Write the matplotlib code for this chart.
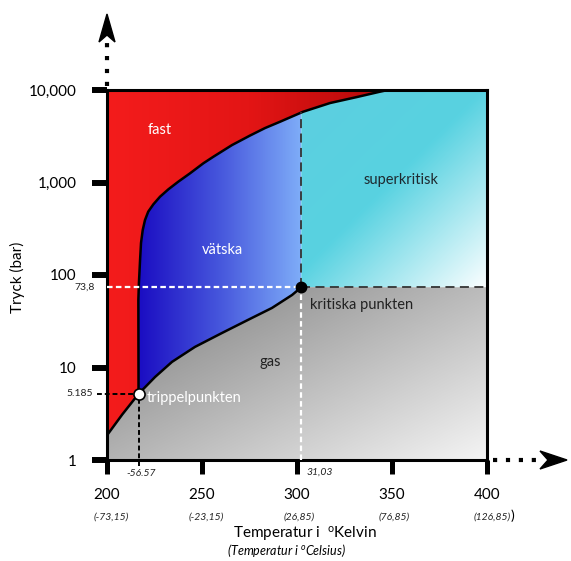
import numpy as np
import matplotlib.pyplot as plt
from matplotlib.colors import LinearSegmentedColormap
from matplotlib.patches import Polygon
from matplotlib.ticker import NullLocator

plt.rcParams['font.family'] = ['Lato', 'DejaVu Sans']
plt.rcParams['mathtext.fontset'] = 'custom'
plt.rcParams['mathtext.rm'] = 'Lato'
plt.rcParams['mathtext.it'] = 'Lato:italic'

# ---- CO2 phase diagram data (K, bar) ----
triple_T, triple_P = 216.6, 5.185
crit_T, crit_P = 302.3, 73.8

subl_T = [200.0, 208.0, triple_T]
subl_P = [1.85, 3.1, triple_P]

melt_T = [triple_T, 216.5, 216.8, 217.4, 217.9, 218.8, 220.0, 221.7, 224.4, 227.9, 232.3,
          237.5, 243.7, 250.7, 256.0, 265.8, 275.3, 283.2, 291.1, 303.2, 317.4, 331.6, 343.7, 347.9]
melt_P = [triple_P, 53.7, 82, 145, 222, 306, 393, 484, 581, 702, 844,
          1020, 1257, 1613, 1900, 2540, 3220, 3880, 4540, 5820, 7230, 8400, 9590, 10000]

vap_T = [triple_T, 225.3, 234.2, 246.3, 260.5, 274.2, 286.8, 297.4, crit_T]
vap_P = [triple_P, 7.9, 11.5, 16.7, 23.6, 32.7, 44.0, 60.8, crit_P]

kelvin_ticks = [200, 250, 300, 350, 400]
celsius_labels = ['(-73,15)', '(-23,15)', '(26,85)', '(76,85)', '(126,85)']
p_ticks = [1, 10, 100, 1000, 10000]
p_labels = ['1', '10', '100', '1,000', '10,000']

W, H = 571, 561
fig = plt.figure(figsize=(W / 100, H / 100), dpi=100)
ax = fig.add_axes([107 / W, 1 - 460 / H, 380 / W, 370 / H])
ax.set_yscale('log')


def gradient_fill(verts, colors, start, end):
    # linear gradient from start to end (axes fraction), clipped to the polygon
    patch = Polygon(verts, closed=True, transform=ax.transData,
                    facecolor='none', edgecolor='none')
    ax.add_patch(patch)
    n = 400
    u, v = np.meshgrid(np.linspace(0, 1, n), np.linspace(0, 1, n))
    du, dv = end[0] - start[0], end[1] - start[1]
    t = ((u - start[0]) * du + (v - start[1]) * dv) / (du ** 2 + dv ** 2)
    t = np.clip(t, 0, 1)
    cmap = LinearSegmentedColormap.from_list('g', colors)
    im = ax.imshow(t, cmap=cmap, vmin=0, vmax=1, extent=[0, 1, 0, 1], origin='lower',
                   transform=ax.transAxes, aspect='auto', interpolation='bilinear', zorder=1)
    im.set_clip_path(patch)


melt_at_crit = 10 ** np.interp(crit_T, melt_T, np.log10(melt_P))
mT, mP = np.array(melt_T), np.array(melt_P)

# solid
solid = [(200, 10000)] + list(zip(subl_T, subl_P)) + list(zip(melt_T[1:], melt_P[1:]))
gradient_fill(solid, ['#f41c1c', '#e31515', '#b20909'], (0, 0.5), (0.75, 0.5))

# liquid
sel = mT < crit_T
liquid = list(zip(mT[sel], mP[sel])) + [(crit_T, melt_at_crit)] + list(zip(vap_T[::-1], vap_P[::-1]))
gradient_fill(liquid, ['#1a0cc2', '#4656dc', '#7eacf8'], (0.08, 0.5), (0.51, 0.5))

# supercritical
sel = mT > crit_T
superc = [(crit_T, crit_P), (crit_T, melt_at_crit)] + list(zip(mT[sel], mP[sel])) + [(400, 10000), (400, crit_P)]
gradient_fill(superc, [(0, '#5ccfe0'), (0.45, '#58d2e1'), (1, '#fafeff')], (0.51, 0.95), (1.0, 0.47))

# gas
gas = [(200, 1)] + list(zip(subl_T, subl_P)) + list(zip(vap_T[1:], vap_P[1:])) + [(400, crit_P), (400, 1)]
gradient_fill(gas, ['#7a7a7a', '#f4f4f4'], (0.0, 0.47), (0.415, -0.31))

# phase boundaries
ax.plot(subl_T, subl_P, color='black', lw=1.8, zorder=3, solid_joinstyle='round')
ax.plot(melt_T, melt_P, color='black', lw=1.8, zorder=3, solid_joinstyle='round')
ax.plot(vap_T, vap_P, color='black', lw=1.8, zorder=3, solid_joinstyle='round')

# dashed guides
ax.plot([crit_T, crit_T], [crit_P, melt_at_crit], color='#333333', lw=1.3, ls=(0, (5, 3)), zorder=3)
ax.plot([crit_T, 400], [crit_P, crit_P], color='#333333', lw=1.3, ls=(0, (5, 3)), zorder=3)
ax.plot([200, crit_T], [crit_P, crit_P], color='white', lw=1.6, ls=(0, (2.5, 1.5)), zorder=3)
ax.plot([crit_T, crit_T], [1, crit_P], color='white', lw=1.6, ls=(0, (2.5, 1.5)), zorder=3)
xt = ax.get_xaxis_transform()
yt = ax.get_yaxis_transform()
ax.plot([-0.026, (triple_T - 200) / 200], [triple_P, triple_P], transform=yt, color='black',
        lw=1.4, ls=(0, (2.5, 1.5)), clip_on=False, zorder=3)
ax.plot([triple_T, triple_T], [-0.016, np.log10(triple_P) / 4], transform=xt, color='black',
        lw=1.4, ls=(0, (2.5, 1.5)), clip_on=False, zorder=3)

# points
ax.plot(crit_T, crit_P, 'o', ms=7.5, color='black', zorder=5)
ax.plot(triple_T, triple_P, 'o', ms=8, mfc='white', mec='black', mew=1.2, zorder=5)

# region labels
ax.text(227.9, 3700, 'fast', color='white', fontsize=10.5, ha='center', va='center', zorder=6)
ax.text(261, 186, 'vätska', color='white', fontsize=10.5, ha='center', va='center', zorder=6)
ax.text(355, 1070, 'superkritisk', color='#1e2a30', fontsize=10.5, ha='center', va='center', zorder=6)
ax.text(285.8, 11.5, 'gas', color='#222222', fontsize=10.5, ha='center', va='center', zorder=6)
ax.text(307.0, 47.4, 'kritiska punkten', color='#222222', fontsize=10.5, ha='left', va='center', zorder=6)
ax.text(221.0, 4.7, 'trippelpunkten', color='white', fontsize=10.5, ha='left', va='center', zorder=6)

ax.set_xlim(200, 400)
ax.set_ylim(1, 10000)

for s in ax.spines.values():
    s.set_linewidth(2.2)
    s.set_color('black')
ax.set_xticks(kelvin_ticks, labels=[str(k) for k in kelvin_ticks])
ax.set_yticks(p_ticks, labels=p_labels)
ax.yaxis.set_minor_locator(NullLocator())
ax.tick_params(axis='y', length=11, width=4.3, pad=11, labelsize=11, color='black')
ax.tick_params(axis='x', length=10, width=3.6, pad=10, labelsize=11, color='black')

# Celsius under Kelvin
for k, c in zip(kelvin_ticks, celsius_labels):
    ax.annotate(c, xy=(k, 0), xycoords=xt, xytext=(-10, -41), textcoords='offset points',
                ha='left', va='center', fontsize=7.5, style='italic', color='#222222')
ax.annotate(')', xy=(400, 0), xycoords=xt, xytext=(18.5, -40), textcoords='offset points',
            ha='center', va='center', fontsize=10, color='black')

# small value labels
ax.annotate('-56.57', xy=(triple_T, 0), xycoords=xt, xytext=(2, -9.5), textcoords='offset points',
            ha='center', va='center', fontsize=7.5, style='italic', color='#222222')
ax.annotate('31,03', xy=(crit_T, 0), xycoords=xt, xytext=(4, -9), textcoords='offset points',
            ha='left', va='center', fontsize=7.5, style='italic', color='#222222')
ax.text(-0.032, crit_P, '73,8', transform=yt, ha='right', va='center', fontsize=7.5, color='#222222')
ax.text(-0.037, triple_P, '5.185', transform=yt, ha='right', va='center', fontsize=7.5, color='#222222')

# axis titles
fig.text(305 / W, 1 - 534 / H, r'Temperatur i  $^{\mathrm{o}}$Kelvin', ha='center', va='center', fontsize=11)
fig.text(17.5 / W, 1 - 277 / H, 'Tryck (bar)', rotation=90, ha='center', va='center', fontsize=11)
fig.text(287 / W, 1 - 550.5 / H, r'(Temperatur i $^{\mathit{o}}$Celsius)', ha='center', va='center',
         fontsize=9, style='italic')


# axis arrows (dotted shaft + concave head), in figure pixels
def fp(x, y):
    return x / W, 1 - y / H


fig.add_artist(plt.Line2D(*zip(fp(107, 86), fp(107, 38)), lw=3, color='black',
                          ls=(0, (1, 2.1)), transform=fig.transFigure))
fig.add_artist(Polygon([fp(107, 14), fp(99, 42), fp(107, 35), fp(115, 42)], closed=True,
                       color='black', transform=fig.transFigure))
fig.add_artist(plt.Line2D(*zip(fp(493, 460), fp(538, 460)), lw=3, color='black',
                          ls=(0, (1, 2.1)), transform=fig.transFigure))
fig.add_artist(Polygon([fp(567, 460), fp(540, 451), fp(548, 460), fp(540, 469)], closed=True,
                       color='black', transform=fig.transFigure))

fig.savefig('out.png', dpi=100)
